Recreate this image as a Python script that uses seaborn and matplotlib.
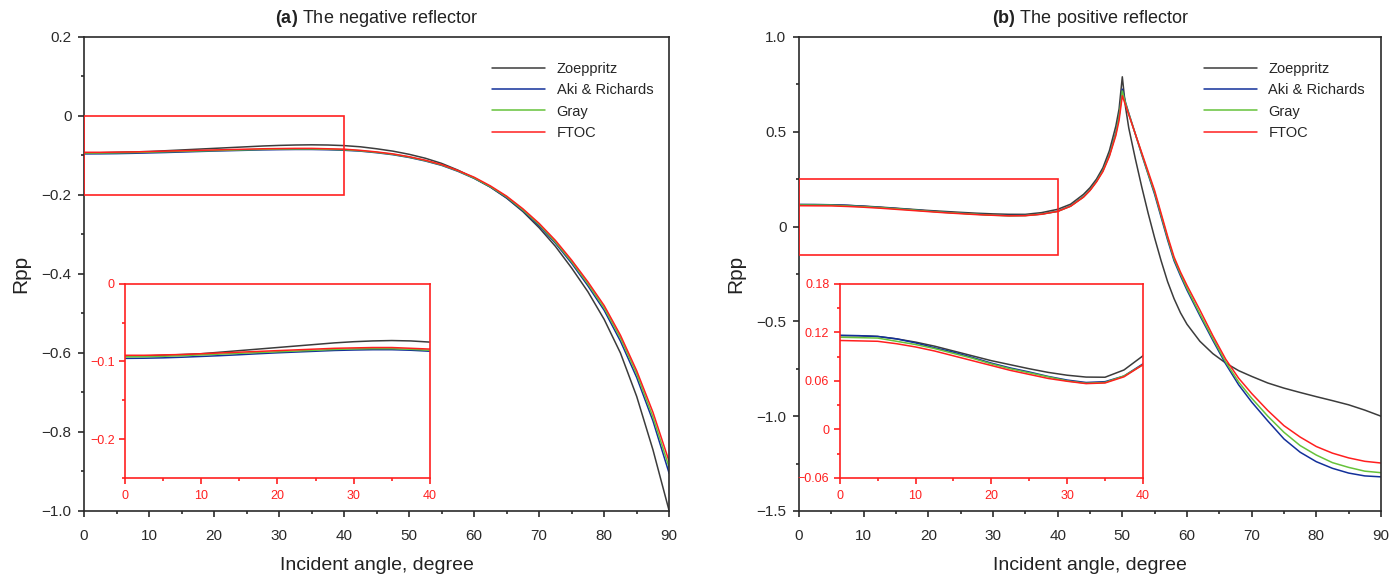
"""
Rpp versus incident angle for a negative and a positive reflector,
with zoomed insets of the small-angle range.
"""
import pandas as pd
import seaborn as sns
from matplotlib import pyplot as plt
from matplotlib.patches import Rectangle
from matplotlib.ticker import MultipleLocator, FuncFormatter

methods = ['Zoeppritz', 'Aki & Richards', 'Gray', 'FTOC']
colors = ['#3c3c3c', '#12309a', '#66c23a', '#ff1f1f']

# (a) negative reflector, every 2.5 degree
angle_a = [0, 2.5, 5, 7.5, 10, 12.5, 15, 17.5, 20, 22.5, 25, 27.5, 30, 32.5, 35, 37.5, 40,
           42.5, 45, 47.5, 50, 52.5, 55, 57.5, 60, 62.5, 65, 67.5, 70, 72.5, 75, 77.5, 80,
           82.5, 85, 87.5, 90]
zoep_a = [-0.093, -0.093, -0.092, -0.091, -0.090, -0.088, -0.086, -0.084, -0.082, -0.080,
          -0.078, -0.076, -0.0745, -0.0735, -0.073, -0.0735, -0.075, -0.078, -0.083, -0.089,
          -0.097, -0.107, -0.120, -0.137, -0.157, -0.180, -0.208, -0.242, -0.283, -0.330,
          -0.385, -0.445, -0.515, -0.600, -0.710, -0.845, -1.000]
aki_a = [-0.096, -0.0958, -0.0953, -0.0945, -0.0935, -0.0925, -0.0913, -0.090, -0.0888,
         -0.0878, -0.0868, -0.0858, -0.0852, -0.0848, -0.0848, -0.0855, -0.0868, -0.089,
         -0.093, -0.098, -0.105, -0.114, -0.125, -0.140, -0.158, -0.180, -0.207, -0.240,
         -0.278, -0.322, -0.373, -0.430, -0.492, -0.570, -0.662, -0.772, -0.905]
gray_a = [-0.094, -0.0938, -0.0933, -0.0925, -0.0915, -0.0905, -0.0895, -0.0885, -0.0875,
          -0.0865, -0.0855, -0.0845, -0.0838, -0.0835, -0.0835, -0.0843, -0.0855, -0.088,
          -0.092, -0.097, -0.104, -0.113, -0.124, -0.139, -0.157, -0.179, -0.205, -0.238,
          -0.275, -0.319, -0.369, -0.425, -0.486, -0.562, -0.653, -0.762, -0.890]
ftoc_a = [-0.092, -0.092, -0.0915, -0.091, -0.090, -0.089, -0.088, -0.087, -0.086, -0.085,
          -0.084, -0.083, -0.0825, -0.082, -0.082, -0.083, -0.084, -0.087, -0.091, -0.096,
          -0.103, -0.112, -0.123, -0.138, -0.155, -0.177, -0.203, -0.235, -0.272, -0.315,
          -0.365, -0.420, -0.480, -0.555, -0.645, -0.750, -0.875]

# (b) positive reflector, denser around the critical angle
angle_b = [0, 2.5, 5, 7.5, 10, 12.5, 15, 17.5, 20, 22.5, 25, 27.5, 30, 32.5, 35, 37.5, 40,
           42, 44, 45, 46, 47, 48, 49, 49.5, 50, 50.5, 51, 52, 53, 54, 55, 56, 57, 58, 59, 60,
           62, 64, 66, 68, 70, 72.5, 75, 77.5, 80, 82.5, 85, 87.5, 90]
zoep_b = [0.116, 0.1158, 0.115, 0.112, 0.108, 0.103, 0.097, 0.091, 0.085, 0.080, 0.075,
          0.0705, 0.067, 0.0647, 0.0645, 0.0735, 0.091, 0.118, 0.170, 0.205, 0.250, 0.310,
          0.400, 0.530, 0.620, 0.790, 0.630, 0.520, 0.360, 0.210, 0.070, -0.060, -0.180,
          -0.290, -0.380, -0.455, -0.515, -0.605, -0.670, -0.720, -0.760, -0.790, -0.825,
          -0.852, -0.875, -0.897, -0.918, -0.940, -0.968, -1.000]
aki_b = [0.1164, 0.116, 0.115, 0.112, 0.107, 0.101, 0.0955, 0.089, 0.082, 0.076, 0.071,
         0.0655, 0.061, 0.058, 0.059, 0.066, 0.081, 0.109, 0.158, 0.193, 0.240, 0.297, 0.378,
         0.495, 0.585, 0.725, 0.655, 0.598, 0.490, 0.380, 0.275, 0.170, 0.050, -0.070, -0.180,
         -0.260, -0.335, -0.470, -0.600, -0.725, -0.835, -0.925, -1.025, -1.120, -1.190,
         -1.240, -1.275, -1.300, -1.315, -1.320]
gray_b = [0.114, 0.1135, 0.113, 0.109, 0.105, 0.100, 0.094, 0.088, 0.081, 0.075, 0.070,
          0.065, 0.060, 0.057, 0.058, 0.066, 0.080, 0.108, 0.157, 0.192, 0.238, 0.295, 0.375,
          0.490, 0.580, 0.715, 0.650, 0.595, 0.490, 0.385, 0.280, 0.180, 0.060, -0.060,
          -0.170, -0.250, -0.325, -0.460, -0.590, -0.715, -0.820, -0.905, -1.000, -1.085,
          -1.155, -1.205, -1.245, -1.270, -1.290, -1.298]
ftoc_b = [0.110, 0.1095, 0.109, 0.106, 0.102, 0.097, 0.091, 0.085, 0.079, 0.073, 0.068,
          0.063, 0.0595, 0.0566, 0.0574, 0.065, 0.080, 0.107, 0.155, 0.190, 0.235, 0.290,
          0.370, 0.480, 0.560, 0.690, 0.640, 0.590, 0.490, 0.390, 0.290, 0.190, 0.070, -0.050,
          -0.160, -0.240, -0.310, -0.440, -0.575, -0.700, -0.800, -0.880, -0.970, -1.050,
          -1.110, -1.160, -1.195, -1.220, -1.238, -1.247]


def to_long(angle, series):
    frames = [pd.DataFrame({'angle': angle, 'Rpp': vals, 'method': name})
              for name, vals in zip(methods, series)]
    return pd.concat(frames, ignore_index=True)


def num_fmt(decimals):
    def f(v, pos):
        if abs(v) < 1e-9:
            return '0'
        return f"{v:.{decimals}f}".replace('-', '\u2212')
    return FuncFormatter(f)


def style_axes(ax, color, lw, size, xpad, ypad):
    for side in ['left', 'right', 'top', 'bottom']:
        ax.spines[side].set_color(color)
        ax.spines[side].set_linewidth(lw)
    ax.tick_params(which='both', direction='out', top=False, right=False,
                   color=color, labelcolor=color, width=lw, labelsize=size)
    ax.tick_params(which='major', length=4)
    ax.tick_params(which='minor', length=2.5)
    ax.tick_params(axis='x', which='major', pad=xpad)
    ax.tick_params(axis='y', which='major', pad=ypad)


def draw_curves(ax, df):
    sns.lineplot(data=df, x='angle', y='Rpp', hue='method', hue_order=methods,
                 palette=colors, linewidth=1.1, ax=ax, legend=False, sort=False)


sns.set_theme(style='ticks')
plt.rcParams['font.family'] = ['Liberation Sans', 'DejaVu Sans']
plt.rcParams['mathtext.fontset'] = 'custom'
plt.rcParams['mathtext.bf'] = 'Liberation Sans:bold'
plt.rcParams['mathtext.rm'] = 'Liberation Sans'

fig = plt.figure(figsize=(14, 5.87), dpi=100)

panels = [
    dict(pos=[0.06, 0.1295, 0.418, 0.8075], angle=angle_a,
         series=[zoep_a, aki_a, gray_a, ftoc_a],
         title=r'$\bf{(a)}$ The negative reflector',
         ylim=(-1.0, 0.2), ystep=0.2, yminor=0.1, ydec=1,
         box=(0, -0.2, 40, 0.2),
         inset_ylim=(-0.25, 0), inset_ystep=0.1, inset_yminor=0.05, inset_dec=1),
    dict(pos=[0.5707, 0.1295, 0.4157, 0.8075], angle=angle_b,
         series=[zoep_b, aki_b, gray_b, ftoc_b],
         title=r'$\bf{(b)}$ The positive reflector',
         ylim=(-1.5, 1.0), ystep=0.5, yminor=0.25, ydec=1,
         box=(0, -0.15, 40, 0.4),
         inset_ylim=(-0.06, 0.18), inset_ystep=0.06, inset_yminor=0.03, inset_dec=2),
]

for p in panels:
    ax = fig.add_axes(p['pos'])
    df = to_long(p['angle'], p['series'])
    draw_curves(ax, df)
    ax.set_xlim(0, 90)
    ax.set_ylim(*p['ylim'])
    ax.xaxis.set_major_locator(MultipleLocator(10))
    ax.xaxis.set_minor_locator(MultipleLocator(5))
    ax.yaxis.set_major_locator(MultipleLocator(p['ystep']))
    ax.yaxis.set_minor_locator(MultipleLocator(p['yminor']))
    ax.xaxis.set_major_formatter(num_fmt(0))
    ax.yaxis.set_major_formatter(num_fmt(p['ydec']))
    style_axes(ax, '#2a2a2a', 1.2, 11, 9, 5)
    ax.set_xlabel('Incident angle, degree', fontsize=14, color='#222222', labelpad=10)
    ax.set_ylabel('Rpp', fontsize=15, color='#222222', labelpad=8)
    ax.set_title(p['title'], fontsize=13, color='#222222', pad=10)

    x0, y0, w, h = p['box']
    ax.add_patch(Rectangle((x0, y0), w, h, fill=False, edgecolor='#ff2020',
                           linewidth=1.2, zorder=5))

    handles = [plt.Line2D([], [], color=c, linewidth=1.1) for c in colors]
    ax.legend(handles, methods, loc='upper right', frameon=False, fontsize=10.5,
              handlelength=3.6, handletextpad=0.8, labelspacing=0.5,
              bbox_to_anchor=(0.995, 0.975))

    ins = ax.inset_axes([0.07, 0.07, 0.521, 0.409])
    draw_curves(ins, df)
    ins.set_xlim(0, 40)
    ins.set_ylim(*p['inset_ylim'])
    ins.xaxis.set_major_locator(MultipleLocator(10))
    ins.xaxis.set_minor_locator(MultipleLocator(5))
    ins.yaxis.set_major_locator(MultipleLocator(p['inset_ystep']))
    ins.yaxis.set_minor_locator(MultipleLocator(p['inset_yminor']))
    ins.xaxis.set_major_formatter(num_fmt(0))
    ins.yaxis.set_major_formatter(num_fmt(p['inset_dec']))
    style_axes(ins, '#ff2020', 1.2, 9, 5, 3.5)
    ins.set_xlabel('')
    ins.set_ylabel('')

fig.savefig('out.png', dpi=100)
